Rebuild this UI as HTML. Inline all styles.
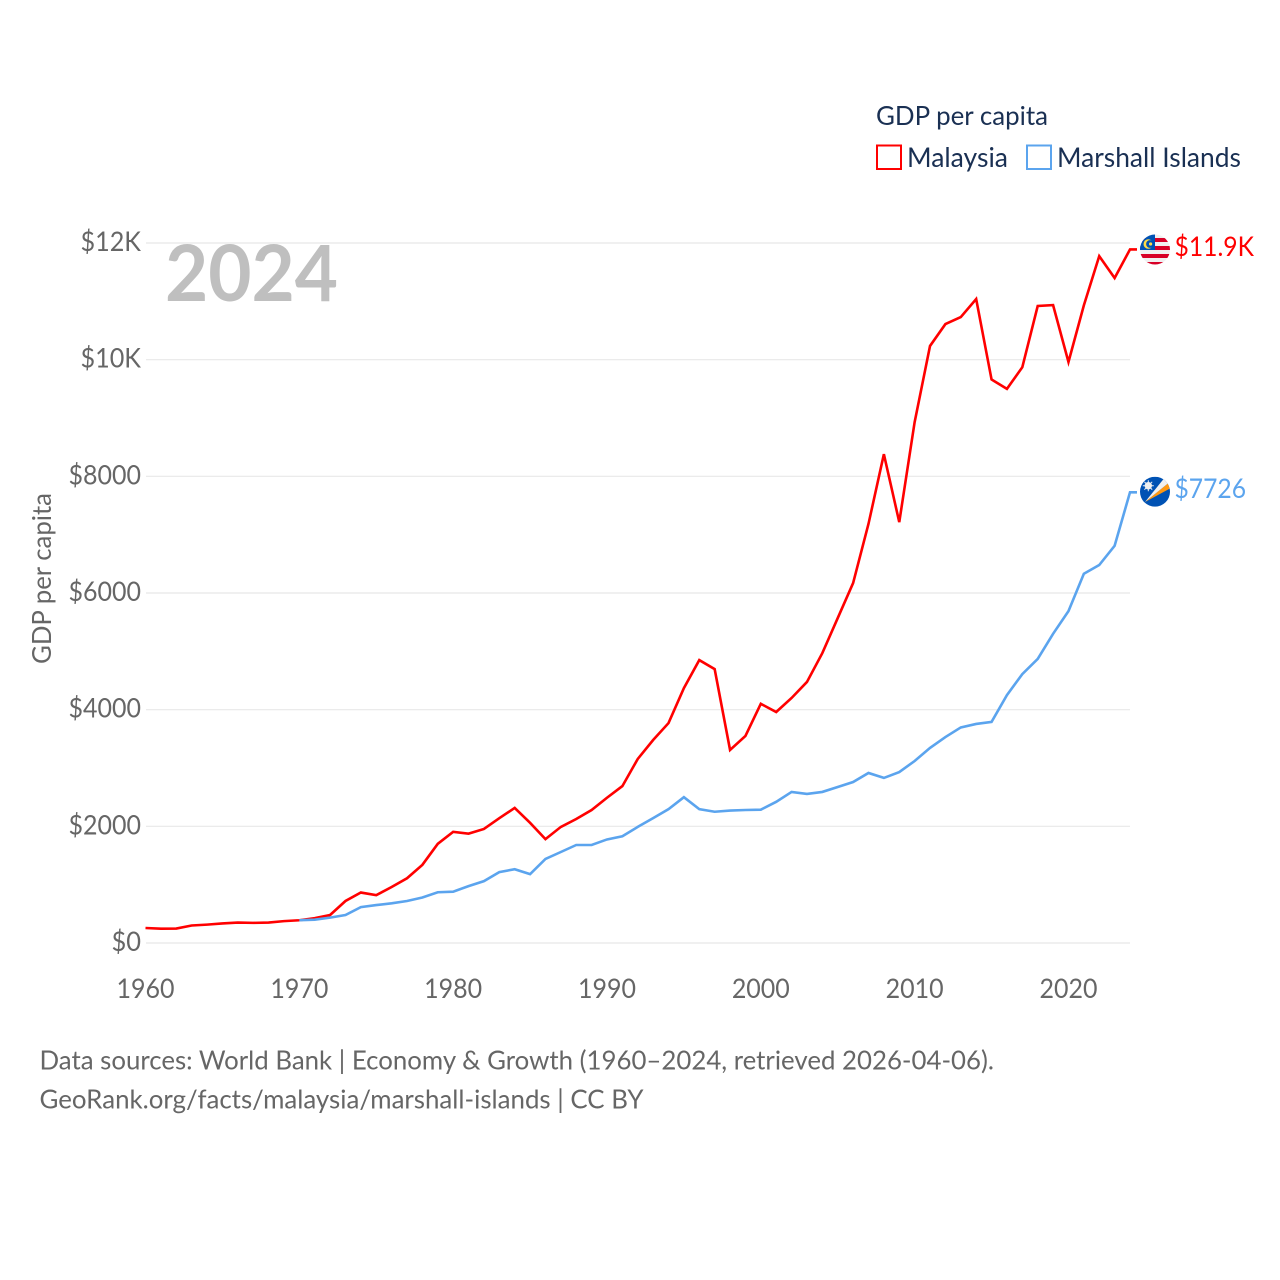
<!DOCTYPE html>
<html lang="en">
<head>
<meta charset="utf-8">
<title>GDP per capita: Malaysia and Marshall Islands</title>
<style>
html,body{margin:0;padding:0;background:#fff;width:1280px;height:1280px;overflow:hidden}
svg{display:block}
text{font-family:"Lato","Carlito","Liberation Sans",sans-serif}
</style>
</head>
<body>
<svg id="chart" width="1280" height="1280" viewBox="0 0 1280 1280" xmlns="http://www.w3.org/2000/svg">
  <defs>
    <clipPath id="flag-clip-my"><circle cx="1155" cy="249.5" r="15"/></clipPath>
    <clipPath id="flag-clip-mh"><circle cx="1155" cy="491.7" r="15"/></clipPath>
  </defs>
  <rect width="1280" height="1280" fill="#fff"/>
  <g id="grid"></g>
  <g id="yticks"></g>
  <g id="xticks"></g>
  <text x="165" y="301" font-size="78" font-weight="700" fill="#bfbfbf" textLength="173" lengthAdjust="spacingAndGlyphs">2024</text>
  <text transform="translate(51,664) rotate(-90)" font-size="26.5" fill="#666" textLength="171" lengthAdjust="spacingAndGlyphs">GDP per capita</text>
  <g id="series"></g>

  <g>
    <text x="876" y="125" font-size="26.5" fill="#1a3053" textLength="172" lengthAdjust="spacingAndGlyphs">GDP per capita</text>
    <rect x="877" y="145.5" width="24" height="23.5" fill="none" stroke="#ff0000" stroke-width="2"/>
    <text x="907" y="167" font-size="27.5" fill="#1a3053" textLength="101" lengthAdjust="spacingAndGlyphs">Malaysia</text>
    <rect x="1027" y="145.5" width="24" height="23.5" fill="none" stroke="#5ba4ee" stroke-width="2"/>
    <text x="1057" y="167" font-size="27.5" fill="#1a3053" textLength="184" lengthAdjust="spacingAndGlyphs">Marshall Islands</text>
  </g>

  <g clip-path="url(#flag-clip-my)">
    <rect x="1140" y="234" width="30" height="31" fill="#f0f0f0"/>
    <rect x="1140" y="238" width="30" height="4" fill="#d80027"/>
    <rect x="1140" y="246" width="30" height="4" fill="#d80027"/>
    <rect x="1140" y="254" width="30" height="4" fill="#d80027"/>
    <rect x="1140" y="262" width="30" height="4" fill="#d80027"/>
    <rect x="1140" y="234" width="15" height="16" fill="#0052b4"/>
    <circle cx="1148.3" cy="244" r="4.8" fill="#ffda44"/>
    <circle cx="1150" cy="244" r="3.9" fill="#0052b4"/>
    <circle cx="1150.6" cy="244" r="1.6" fill="#ffda44"/>
  </g>
  <g clip-path="url(#flag-clip-mh)">
    <rect x="1140" y="476.7" width="30" height="30" fill="#0052b4"/>
    <polygon points="1145,502 1171,481 1171,488" fill="#ff9811"/>
    <polygon points="1145,502 1166,476 1171,481" fill="#f0f0f0"/>
    <circle cx="1148.3" cy="485.7" r="3.7" fill="#f0f0f0"/>
    <path d="M1148.3 480.2V491.2M1142.8 485.7H1153.8M1144.4 481.8L1152.2 489.6M1152.2 481.8L1144.4 489.6" stroke="#f0f0f0" stroke-width="1"/>
  </g>

  <text id="label-my" x="1174.5" y="256" font-size="27.5" fill="#ff0000" textLength="79.5" lengthAdjust="spacingAndGlyphs"></text>
  <text id="label-mh" x="1174.5" y="498" font-size="27.5" fill="#5ba4ee" textLength="71.5" lengthAdjust="spacingAndGlyphs"></text>

  <text x="39.5" y="1069.5" font-size="26.5" fill="#666" textLength="954.5" lengthAdjust="spacingAndGlyphs">Data sources: World Bank | Economy &amp; Growth (1960–2024, retrieved 2026-04-06).</text>
  <text x="39.5" y="1108.5" font-size="26.5" fill="#666" textLength="604" lengthAdjust="spacingAndGlyphs">GeoRank.org/facts/malaysia/marshall-islands | CC BY</text>
</svg>
<script>
const firstYear = 1960;
const lastYear = 2024;
const malaysiaValues = [257,245,248,300,315,335,350,345,350,375,390,425,480,720,865,820,960,1110,1340,1700,1905,1875,1955,2140,2315,2060,1780,1990,2125,2280,2490,2690,3155,3480,3770,4370,4850,4695,3310,3550,4100,3960,4200,4475,4970,5570,6170,7185,8380,7215,8930,10235,10610,10730,11040,9660,9500,9870,10920,10935,9960,10930,11775,11400,11890];
const marshallStartYear = 1970;
const marshallValues = [390,400,435,480,615,650,680,720,780,870,880,975,1060,1215,1265,1180,1440,1560,1680,1680,1775,1830,1990,2140,2295,2500,2295,2250,2270,2280,2285,2420,2590,2555,2590,2675,2760,2915,2830,2930,3120,3345,3530,3695,3755,3790,4250,4610,4870,5300,5690,6330,6480,6810,7726];
const yTickValues = [0,2000,4000,6000,8000,10000,12000];
const yTickLabels = ["$0","$2000","$4000","$6000","$8000","$10K","$12K"];
const xTickValues = [1960,1970,1980,1990,2000,2010,2020];
const endLabels = ["$11.9K","$7726"];

const NS = "http://www.w3.org/2000/svg";
const xScale = y => 145.5 + (y - firstYear) * (1130 - 145.5) / (lastYear - firstYear);
const yScale = v => 943 - v * (943 - 243) / 12000;

function make(tag, attrs, parent, text) {
  const el = document.createElementNS(NS, tag);
  for (const k in attrs) el.setAttribute(k, attrs[k]);
  if (text !== undefined) el.textContent = text;
  parent.appendChild(el);
  return el;
}

const grid = document.getElementById("grid");
const yticks = document.getElementById("yticks");
const xticks = document.getElementById("xticks");
const series = document.getElementById("series");

yTickValues.forEach((v, i) => {
  const line = make("line", {x1: 146, x2: 1130, y1: yScale(v), y2: yScale(v), stroke: "#e8e8e8", "stroke-width": 1.2}, grid);
  
  
  const label = yTickLabels[i];
  const width = label.length === 2 ? 29.5 : (label.length === 4 ? 60.5 : 72.5);
  const t = make("text", {x: 141, y: yScale(v) + 8, "text-anchor": "end", "font-size": 27.5, fill: "#666", textLength: width, lengthAdjust: "spacingAndGlyphs"}, yticks, label);
  
  
});

xTickValues.forEach(y => {
  const t = make("text", {x: xScale(y), y: 998, "text-anchor": "middle", "font-size": 27.5, fill: "#666", textLength: 58, lengthAdjust: "spacingAndGlyphs"}, xticks, String(y));
  
  
});

function linePoints(values, startYear) {
  const pts = values.map((v, i) => xScale(startYear + i).toFixed(2) + "," + yScale(v).toFixed(2));
  pts.push("1137," + yScale(values[values.length - 1]).toFixed(2));
  return pts.join(" ");
}

const redLine = make("polyline", {points: linePoints(malaysiaValues, firstYear), fill: "none", stroke: "#ff0000", "stroke-width": 2.6, "stroke-linejoin": "miter"}, series);



const blueLine = make("polyline", {points: linePoints(marshallValues, marshallStartYear), fill: "none", stroke: "#5ba4ee", "stroke-width": 2.6, "stroke-linejoin": "miter"}, series);



document.getElementById("label-my").textContent = endLabels[0];
document.getElementById("label-mh").textContent = endLabels[1];
</script>
</body>
</html>
